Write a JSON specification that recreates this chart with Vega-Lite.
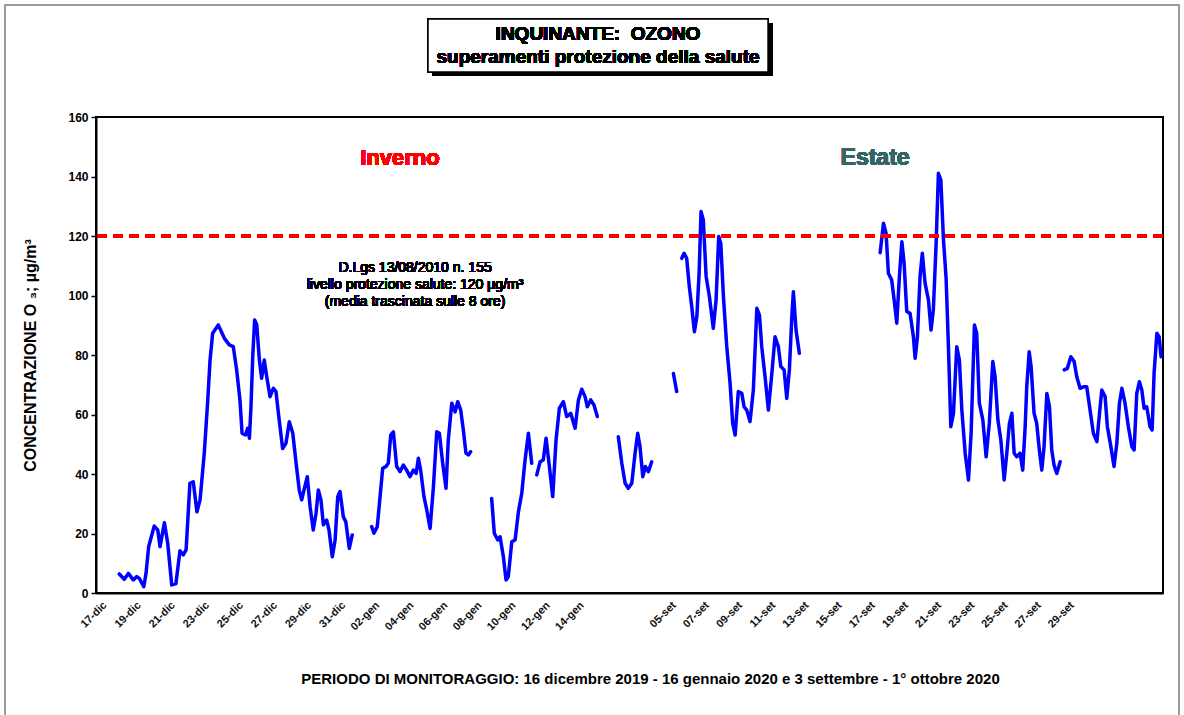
{
  "$schema": "https://vega.github.io/schema/vega-lite/v6.json",
  "width": 1067,
  "height": 476,
  "autosize": {"type": "none"},
  "padding": {"left": 96, "top": 117, "right": 21, "bottom": 122},
  "background": "white",
  "config": {
    "font": "Liberation Sans",
    "view": {"stroke": "black", "strokeWidth": 2},
    "axisX": {"labelOverlap": false, "labelFlush": false, "labelBound": false}
  },
  "data": {
    "values": [
      {"t":1.33,"v":6.4,"s":1},{"t":1.62,"v":4.6,"s":1},{"t":1.85,"v":6.6,"s":1},{"t":2.13,"v":4.4,"s":1},{"t":2.33,"v":5.5,"s":1},{"t":2.48,"v":4.9,"s":1},{"t":2.73,"v":2.1,"s":1},{"t":2.86,"v":6.6,"s":1},{"t":3.01,"v":15.6,"s":1},{"t":3.14,"v":18.4,"s":1},{"t":3.33,"v":22.5,"s":1},{"t":3.53,"v":21.2,"s":1},{"t":3.66,"v":15.6,"s":1},{"t":3.91,"v":23.6,"s":1},{"t":4.10,"v":16.7,"s":1},{"t":4.33,"v":2.7,"s":1},{"t":4.57,"v":3.2,"s":1},{"t":4.80,"v":14.2,"s":1},{"t":4.99,"v":12.8,"s":1},{"t":5.15,"v":14.5,"s":1},{"t":5.37,"v":36.9,"s":1},{"t":5.56,"v":37.4,"s":1},{"t":5.77,"v":27.3,"s":1},{"t":5.95,"v":31.3,"s":1},{"t":6.19,"v":47,"s":1},{"t":6.39,"v":64.9,"s":1},{"t":6.52,"v":78.3,"s":1},{"t":6.67,"v":87.3,"s":1},{"t":6.99,"v":90.1,"s":1},{"t":7.34,"v":85.6,"s":1},{"t":7.62,"v":83.4,"s":1},{"t":7.85,"v":82.8,"s":1},{"t":8.04,"v":75,"s":1},{"t":8.23,"v":64.9,"s":1},{"t":8.35,"v":53.7,"s":1},{"t":8.54,"v":53.1,"s":1},{"t":8.67,"v":55.4,"s":1},{"t":8.77,"v":52,"s":1},{"t":8.86,"v":62.6,"s":1},{"t":8.96,"v":79.4,"s":1},{"t":9.07,"v":91.8,"s":1},{"t":9.19,"v":90.1,"s":1},{"t":9.34,"v":78.3,"s":1},{"t":9.47,"v":72.2,"s":1},{"t":9.62,"v":78.3,"s":1},{"t":9.76,"v":72.7,"s":1},{"t":9.95,"v":66,"s":1},{"t":10.14,"v":68.8,"s":1},{"t":10.29,"v":67.7,"s":1},{"t":10.45,"v":59.3,"s":1},{"t":10.67,"v":48.6,"s":1},{"t":10.86,"v":50.3,"s":1},{"t":11.05,"v":57.6,"s":1},{"t":11.25,"v":53.7,"s":1},{"t":11.44,"v":43.6,"s":1},{"t":11.62,"v":34.6,"s":1},{"t":11.76,"v":31.3,"s":1},{"t":11.89,"v":34.6,"s":1},{"t":12.08,"v":39.1,"s":1},{"t":12.24,"v":29,"s":1},{"t":12.42,"v":21.2,"s":1},{"t":12.58,"v":26.8,"s":1},{"t":12.71,"v":34.6,"s":1},{"t":12.86,"v":31.3,"s":1},{"t":13.00,"v":22.9,"s":1},{"t":13.19,"v":24.5,"s":1},{"t":13.32,"v":21.2,"s":1},{"t":13.51,"v":12.2,"s":1},{"t":13.67,"v":17.8,"s":1},{"t":13.82,"v":32.4,"s":1},{"t":13.95,"v":34.1,"s":1},{"t":14.14,"v":25.6,"s":1},{"t":14.28,"v":24,"s":1},{"t":14.48,"v":15,"s":1},{"t":14.65,"v":19.5,"s":1},
      {"t":15.76,"v":22.3,"s":2},{"t":15.89,"v":20.1,"s":2},{"t":16.08,"v":22.3,"s":2},{"t":16.24,"v":32.4,"s":2},{"t":16.39,"v":41.9,"s":2},{"t":16.58,"v":42.5,"s":2},{"t":16.71,"v":43.6,"s":2},{"t":16.85,"v":53.1,"s":2},{"t":17.00,"v":54.2,"s":2},{"t":17.19,"v":42.5,"s":2},{"t":17.38,"v":40.8,"s":2},{"t":17.57,"v":43,"s":2},{"t":17.76,"v":41.3,"s":2},{"t":17.95,"v":39.1,"s":2},{"t":18.14,"v":41.3,"s":2},{"t":18.30,"v":40.2,"s":2},{"t":18.43,"v":45.3,"s":2},{"t":18.56,"v":41.3,"s":2},{"t":18.75,"v":32.4,"s":2},{"t":18.91,"v":27.9,"s":2},{"t":19.10,"v":21.7,"s":2},{"t":19.29,"v":35.7,"s":2},{"t":19.48,"v":54.2,"s":2},{"t":19.63,"v":53.7,"s":2},{"t":19.82,"v":43.6,"s":2},{"t":20.01,"v":35.2,"s":2},{"t":20.14,"v":51.4,"s":2},{"t":20.34,"v":63.8,"s":2},{"t":20.53,"v":60.9,"s":2},{"t":20.68,"v":64.3,"s":2},{"t":20.85,"v":61.5,"s":2},{"t":21.00,"v":54.8,"s":2},{"t":21.15,"v":47,"s":2},{"t":21.29,"v":46.4,"s":2},{"t":21.42,"v":47.5,"s":2},
      {"t":22.62,"v":31.8,"s":3},{"t":22.77,"v":20.1,"s":3},{"t":22.97,"v":17.8,"s":3},{"t":23.10,"v":18.9,"s":3},{"t":23.29,"v":12.2,"s":3},{"t":23.44,"v":4.4,"s":3},{"t":23.57,"v":5.5,"s":3},{"t":23.77,"v":17.2,"s":3},{"t":23.96,"v":17.8,"s":3},{"t":24.15,"v":27.3,"s":3},{"t":24.34,"v":33.5,"s":3},{"t":24.53,"v":44.7,"s":3},{"t":24.72,"v":53.7,"s":3},{"t":24.91,"v":43.6,"s":3},
      {"t":25.20,"v":39.7,"s":4},{"t":25.39,"v":44.1,"s":4},{"t":25.57,"v":44.7,"s":4},{"t":25.73,"v":52,"s":4},{"t":25.92,"v":42.5,"s":4},{"t":26.11,"v":32.4,"s":4},{"t":26.30,"v":51.4,"s":4},{"t":26.49,"v":62.1,"s":4},{"t":26.72,"v":64.3,"s":4},{"t":26.91,"v":59.3,"s":4},{"t":27.14,"v":60.4,"s":4},{"t":27.39,"v":55.4,"s":4},{"t":27.58,"v":64.9,"s":4},{"t":27.77,"v":68.5,"s":4},{"t":27.96,"v":66,"s":4},{"t":28.09,"v":62.6,"s":4},{"t":28.28,"v":64.9,"s":4},{"t":28.47,"v":63.2,"s":4},{"t":28.66,"v":59.3,"s":4},
      {"t":29.86,"v":52.5,"s":5},{"t":30.06,"v":43.6,"s":5},{"t":30.25,"v":36.9,"s":5},{"t":30.43,"v":35.2,"s":5},{"t":30.63,"v":36.9,"s":5},{"t":30.82,"v":47,"s":5},{"t":30.97,"v":53.7,"s":5},{"t":31.10,"v":49.2,"s":5},{"t":31.26,"v":39.1,"s":5},{"t":31.41,"v":42.5,"s":5},{"t":31.58,"v":40.8,"s":5},{"t":31.77,"v":44.1,"s":5},
      {"t":33.01,"v":73.8,"s":6},{"t":33.20,"v":67.7,"s":6},
      {"t":33.49,"v":112.5,"s":7},{"t":33.62,"v":114.2,"s":7},{"t":33.77,"v":112.5,"s":7},{"t":33.92,"v":102.9,"s":7},{"t":34.06,"v":96.2,"s":7},{"t":34.21,"v":87.8,"s":7},{"t":34.35,"v":92.9,"s":7},{"t":34.48,"v":107.5,"s":7},{"t":34.59,"v":128.2,"s":7},{"t":34.72,"v":125.4,"s":7},{"t":34.88,"v":106.4,"s":7},{"t":35.07,"v":99.6,"s":7},{"t":35.29,"v":89,"s":7},{"t":35.45,"v":98.5,"s":7},{"t":35.60,"v":119.8,"s":7},{"t":35.72,"v":117.5,"s":7},{"t":35.87,"v":99.6,"s":7},{"t":36.06,"v":82.8,"s":7},{"t":36.25,"v":70.5,"s":7},{"t":36.40,"v":57,"s":7},{"t":36.54,"v":53.1,"s":7},{"t":36.72,"v":67.7,"s":7},{"t":36.92,"v":67.1,"s":7},{"t":37.05,"v":62.6,"s":7},{"t":37.20,"v":61.5,"s":7},{"t":37.39,"v":57.6,"s":7},{"t":37.58,"v":68.2,"s":7},{"t":37.78,"v":95.7,"s":7},{"t":37.93,"v":93.4,"s":7},{"t":38.06,"v":82.8,"s":7},{"t":38.25,"v":72.7,"s":7},{"t":38.44,"v":61.5,"s":7},{"t":38.63,"v":73.3,"s":7},{"t":38.82,"v":86.1,"s":7},{"t":39.01,"v":82.8,"s":7},{"t":39.15,"v":76.1,"s":7},{"t":39.34,"v":75,"s":7},{"t":39.49,"v":65.4,"s":7},{"t":39.64,"v":75,"s":7},{"t":39.78,"v":92.9,"s":7},{"t":39.87,"v":101.3,"s":7},{"t":40.02,"v":88.4,"s":7},{"t":40.21,"v":80.6,"s":7},
      {"t":44.83,"v":114.4,"s":8},{"t":45.02,"v":124.3,"s":8},{"t":45.17,"v":120.9,"s":8},{"t":45.30,"v":107.5,"s":8},{"t":45.49,"v":105.2,"s":8},{"t":45.63,"v":98.5,"s":8},{"t":45.78,"v":90.7,"s":8},{"t":45.93,"v":106.4,"s":8},{"t":46.07,"v":118.1,"s":8},{"t":46.20,"v":110.8,"s":8},{"t":46.35,"v":94.6,"s":8},{"t":46.54,"v":94,"s":8},{"t":46.73,"v":86.1,"s":8},{"t":46.83,"v":78.9,"s":8},{"t":46.96,"v":86.1,"s":8},{"t":47.11,"v":106.4,"s":8},{"t":47.24,"v":114.2,"s":8},{"t":47.40,"v":104.1,"s":8},{"t":47.59,"v":98.5,"s":8},{"t":47.74,"v":88.4,"s":8},{"t":47.87,"v":95.1,"s":8},{"t":48.03,"v":117.5,"s":8},{"t":48.16,"v":141.1,"s":8},{"t":48.30,"v":138.8,"s":8},{"t":48.45,"v":118.7,"s":8},{"t":48.60,"v":105.8,"s":8},{"t":48.73,"v":83.4,"s":8},{"t":48.87,"v":55.9,"s":8},{"t":49.02,"v":60.4,"s":8},{"t":49.21,"v":82.8,"s":8},{"t":49.36,"v":78.3,"s":8},{"t":49.50,"v":61.5,"s":8},{"t":49.69,"v":47,"s":8},{"t":49.88,"v":38,"s":8},{"t":50.03,"v":53.7,"s":8},{"t":50.22,"v":90.1,"s":8},{"t":50.35,"v":87.3,"s":8},{"t":50.50,"v":63.8,"s":8},{"t":50.70,"v":58.2,"s":8},{"t":50.89,"v":45.8,"s":8},{"t":51.07,"v":57,"s":8},{"t":51.27,"v":77.8,"s":8},{"t":51.40,"v":72.7,"s":8},{"t":51.56,"v":58.2,"s":8},{"t":51.73,"v":51.4,"s":8},{"t":51.92,"v":38,"s":8},{"t":52.07,"v":47,"s":8},{"t":52.22,"v":57,"s":8},{"t":52.36,"v":60.4,"s":8},{"t":52.49,"v":47,"s":8},{"t":52.64,"v":45.8,"s":8},{"t":52.83,"v":47,"s":8},{"t":52.98,"v":41.3,"s":8},{"t":53.12,"v":55.9,"s":8},{"t":53.21,"v":69.3,"s":8},{"t":53.35,"v":81.1,"s":8},{"t":53.46,"v":76.1,"s":8},{"t":53.63,"v":60.4,"s":8},{"t":53.78,"v":57,"s":8},{"t":53.93,"v":48.1,"s":8},{"t":54.07,"v":41.3,"s":8},{"t":54.20,"v":49.2,"s":8},{"t":54.36,"v":67.1,"s":8},{"t":54.51,"v":62.6,"s":8},{"t":54.64,"v":48.1,"s":8},{"t":54.77,"v":43,"s":8},{"t":54.93,"v":40.2,"s":8},{"t":55.12,"v":44.1,"s":8},
      {"t":55.35,"v":75,"s":9},{"t":55.53,"v":75.5,"s":9},{"t":55.73,"v":79.4,"s":9},{"t":55.92,"v":77.8,"s":9},{"t":56.07,"v":72.7,"s":9},{"t":56.26,"v":68.8,"s":9},{"t":56.45,"v":69.3,"s":9},{"t":56.64,"v":69.3,"s":9},{"t":56.83,"v":61.5,"s":9},{"t":57.02,"v":53.7,"s":9},{"t":57.22,"v":50.9,"s":9},{"t":57.37,"v":60.4,"s":9},{"t":57.50,"v":68.2,"s":9},{"t":57.69,"v":66,"s":9},{"t":57.82,"v":55.9,"s":9},{"t":58.02,"v":49.2,"s":9},{"t":58.20,"v":42.5,"s":9},{"t":58.36,"v":50.3,"s":9},{"t":58.51,"v":63.8,"s":9},{"t":58.65,"v":68.8,"s":9},{"t":58.83,"v":63.8,"s":9},{"t":59.02,"v":55.9,"s":9},{"t":59.22,"v":49.2,"s":9},{"t":59.35,"v":48.1,"s":9},{"t":59.50,"v":67.1,"s":9},{"t":59.65,"v":71,"s":9},{"t":59.79,"v":68.2,"s":9},{"t":59.92,"v":62.1,"s":9},{"t":60.07,"v":62.6,"s":9},{"t":60.26,"v":55.9,"s":9},{"t":60.38,"v":54.8,"s":9},{"t":60.49,"v":73.8,"s":9},{"t":60.65,"v":87.3,"s":9},{"t":60.78,"v":86.1,"s":9},{"t":60.89,"v":79.4,"s":9}
    ]
  },
  "layer": [
    {
      "mark": {"type": "line", "color": "#0000ff", "strokeWidth": 3.5, "strokeJoin": "round", "strokeCap": "round"},
      "encoding": {
        "x": {
          "field": "t", "type": "quantitative",
          "scale": {"domain": [0, 61], "nice": false, "zero": false},
          "axis": {
            "values": [0.26,2.21,4.16,6.11,8.06,10.0,11.95,13.9,15.85,17.8,19.74,21.69,23.64,25.59,27.54,32.8,34.69,36.59,38.49,40.39,42.28,44.18,46.08,47.97,49.87,51.76,53.66,55.56],
            "tickCount": 100,
            "labelExpr": "['17-dic','19-dic','21-dic','23-dic','25-dic','27-dic','29-dic','31-dic','02-gen','04-gen','06-gen','08-gen','10-gen','12-gen','14-gen','05-set','07-set','09-set','11-set','13-set','15-set','17-set','19-set','21-set','23-set','25-set','27-set','29-set'][indexof([0.26,2.21,4.16,6.11,8.06,10.0,11.95,13.9,15.85,17.8,19.74,21.69,23.64,25.59,27.54,32.8,34.69,36.59,38.49,40.39,42.28,44.18,46.08,47.97,49.87,51.76,53.66,55.56], datum.value)]",
            "labelAngle": -45,
            "labelOverlap": false,
            "labelFlush": false,
            "labelFontSize": 11,
            "labelFontWeight": "bold",
            "labelColor": "#111111",
            "labelPadding": 6,
            "ticks": false,
            "grid": false,
            "domainColor": "black",
            "domainWidth": 2,
            "title": "PERIODO DI MONITORAGGIO: 16 dicembre 2019 - 16 gennaio 2020 e 3 settembre - 1° ottobre 2020",
            "titleFontSize": 15,
            "titleFontWeight": "bold",
            "titleColor": "black",
            "titleX": 554,
            "titleY": 85,
            "titleBaseline": "middle",
            "titleAnchor": "middle"
          }
        },
        "y": {
          "field": "v", "type": "quantitative",
          "scale": {"domain": [0, 160], "nice": false},
          "axis": {
            "values": [0,20,40,60,80,100,120,140,160],
            "grid": false,
            "tickSize": 5,
            "tickColor": "black",
            "tickWidth": 1.5,
            "domainColor": "black",
            "domainWidth": 2,
            "labelFontSize": 12,
            "labelFontWeight": "bold",
            "labelColor": "black",
            "labelPadding": 3,
            "title": "CONCENTRAZIONE O ₃; µg/m³",
            "titleFontSize": 16,
            "titleFontWeight": "bold",
            "titleColor": "black",
            "titleX": -66,
            "titleBaseline": "middle"
          }
        },
        "detail": {"field": "s", "type": "nominal"}
      }
    },
    {
      "mark": {"type": "rule", "color": "#ff0000", "strokeWidth": 3, "strokeDash": [10, 6]},
      "encoding": {"y": {"datum": 120, "type": "quantitative"}}
    },
    {
      "mark": {"type": "rect", "fill": null, "stroke": "#9a9a9a", "strokeWidth": 1.5, "clip": false},
      "encoding": {
        "x": {"datum": -5.2, "type": "quantitative"},
        "x2": {"datum": 61.92},
        "y": {"datum": 197.6, "type": "quantitative"},
        "y2": {"datum": -42.7}
      }
    },
    {
      "mark": {"type": "rect", "fill": "black", "clip": false},
      "encoding": {
        "x": {"datum": 19.21, "type": "quantitative"},
        "x2": {"datum": 38.65},
        "y": {"datum": 191.6, "type": "quantitative"},
        "y2": {"datum": 173.8}
      }
    },
    {
      "mark": {"type": "rect", "fill": "white", "stroke": "black", "strokeWidth": 1.5, "clip": false},
      "encoding": {
        "x": {"datum": 18.98, "type": "quantitative"},
        "x2": {"datum": 38.42},
        "y": {"datum": 192.9, "type": "quantitative"},
        "y2": {"datum": 175.1}
      }
    },
    {
      "mark": {"type": "text", "fontSize": 19, "fontWeight": "bold", "color": "black", "align": "center", "baseline": "middle", "lineHeight": 23, "clip": false},
      "encoding": {
        "x": {"datum": 28.7, "type": "quantitative"},
        "y": {"datum": 187.9, "type": "quantitative"},
        "text": {"value": ["INQUINANTE:\u00a0 OZONO", "superamenti protezione della salute"]}
      }
    },
    {
      "mark": {"type": "text", "fontSize": 22, "fontWeight": "bold", "color": "#ff0000", "align": "center", "baseline": "middle"},
      "encoding": {
        "x": {"datum": 17.38, "type": "quantitative"},
        "y": {"datum": 146.2, "type": "quantitative"},
        "text": {"value": "Inverno"}
      }
    },
    {
      "mark": {"type": "text", "fontSize": 23, "fontWeight": "bold", "color": "#336666", "align": "center", "baseline": "middle"},
      "encoding": {
        "x": {"datum": 44.54, "type": "quantitative"},
        "y": {"datum": 146.2, "type": "quantitative"},
        "text": {"value": "Estate"}
      }
    },
    {
      "mark": {"type": "text", "fontSize": 14, "color": "black", "align": "center", "baseline": "middle", "lineHeight": 17},
      "encoding": {
        "x": {"datum": 18.24, "type": "quantitative"},
        "y": {"datum": 109.2, "type": "quantitative"},
        "text": {"value": ["D.Lgs 13/08/2010 n. 155", "livello protezione salute: 120 µg/m³", "(media trascinata sulle 8 ore)"]}
      }
    }
  ]
}
